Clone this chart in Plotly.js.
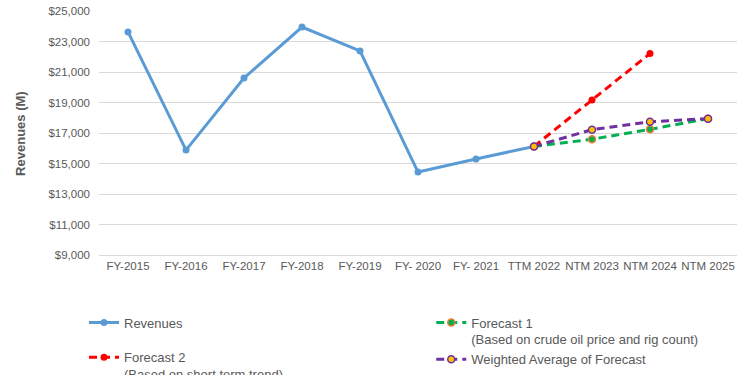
<!DOCTYPE html>
<html>
<head>
<meta charset="utf-8">
<script src="https://cdn.plot.ly/plotly-3.0.1.min.js"></script>
<style>html,body{margin:0;padding:0;background:#fff;}#chart{width:750px;height:375px;}</style>
</head>
<body>
<div id="chart"></div>
<script>
const categories = ["FY-2015","FY-2016","FY-2017","FY-2018","FY-2019","FY- 2020","FY- 2021","TTM 2022","NTM 2023","NTM 2024","NTM 2025"];
const revenueCats = ["FY-2015","FY-2016","FY-2017","FY-2018","FY-2019","FY- 2020","FY- 2021","TTM 2022"];
const revenues = [23630, 15880, 20610, 23950, 22380, 14440, 15300, 16120];
const forecast1Cats = ["TTM 2022","NTM 2023","NTM 2024","NTM 2025"];
const forecast1 = [16120, 16590, 17240, 17940];
const forecast2Cats = ["TTM 2022","NTM 2023","NTM 2024"];
const forecast2 = [16120, 19160, 22210];
const weightedCats = ["TTM 2022","NTM 2023","NTM 2024","NTM 2025"];
const weighted = [16120, 17220, 17740, 17940];
const yTickVals = [9000, 11000, 13000, 15000, 17000, 19000, 21000, 23000, 25000];
const yTickText = ["$9,000", "$11,000", "$13,000", "$15,000", "$17,000", "$19,000", "$21,000", "$23,000", "$25,000"];
const yTitle = 'Revenues (M)';

const txt = '#595959';
const traces = [
  {x: revenueCats, y: revenues, name: 'Revenues', type: 'scatter', mode: 'lines+markers',
   legend: 'legend', legendgroup: 'a',
   line: {color: '#5B9BD5', width: 3}, marker: {color: '#5B9BD5', size: 7}},
  {x: forecast1Cats, y: forecast1, name: 'Forecast 1<br>(Based on crude oil price and rig count)', type: 'scatter', mode: 'lines+markers',
   legend: 'legend2', legendgroup: 'b',
   line: {color: '#00B050', width: 3, dash: '8px,5px'}, marker: {color: '#00B050', size: 7, line: {color: '#ED7D31', width: 1.5}}},
  {x: forecast2Cats, y: forecast2, name: 'Forecast 2<br>(Based on short term trend)', type: 'scatter', mode: 'lines+markers',
   legend: 'legend', legendgroup: 'c',
   line: {color: '#FF0000', width: 3, dash: '8px,5px'}, marker: {color: '#FF0000', size: 7}},
  {x: weightedCats, y: weighted, name: 'Weighted Average of Forecast', type: 'scatter', mode: 'lines+markers',
   legend: 'legend2', legendgroup: 'd',
   line: {color: '#7030A0', width: 3, dash: '8px,5px'}, marker: {color: '#FFC000', size: 7, line: {color: '#7030A0', width: 1.5}}}
];

const legendBase = {
  orientation: 'v', xref: 'container', yref: 'container',
  y: 0.18, xanchor: 'left', yanchor: 'top', valign: 'top',
  font: {size: 13, color: txt}, traceorder: 'grouped', itemclick: false
};

const layout = {
  width: 750, height: 375,
  margin: {l: 99, r: 13, t: 11, b: 120, autoexpand: false},
  paper_bgcolor: '#fff', plot_bgcolor: '#fff',
  font: {family: 'Liberation Sans, Arial, sans-serif', color: txt},
  showlegend: true,
  xaxis: {
    type: 'category', categoryorder: 'array', categoryarray: categories,
    range: [-0.5, 10.5], showgrid: false, zeroline: false,
    showline: true, linecolor: '#D9D9D9', linewidth: 1,
    ticks: '', tickangle: 0, tickfont: {size: 11.5, color: txt}
  },
  yaxis: {
    range: [9000, 25000], tickmode: 'array', tickvals: yTickVals, ticktext: yTickText,
    showgrid: true, gridcolor: '#D9D9D9', gridwidth: 1,
    zeroline: false, showline: false, ticks: '', ticklabelstandoff: 8,
    tickfont: {size: 11.5, color: txt}
  },
  annotations: [{
    text: '<b>' + yTitle + '</b>', textangle: -90, showarrow: false,
    xref: 'paper', yref: 'paper', x: -0.124, y: 0.5, xanchor: 'center', yanchor: 'middle',
    font: {size: 13, color: txt}
  }],
  legend: Object.assign({}, legendBase, {x: 0.112, tracegroupgap: 15}),
  legend2: Object.assign({}, legendBase, {x: 0.575, tracegroupgap: 0})
};

Plotly.newPlot('chart', traces, layout, {displayModeBar: false, staticPlot: true});
</script>
</body>
</html>
